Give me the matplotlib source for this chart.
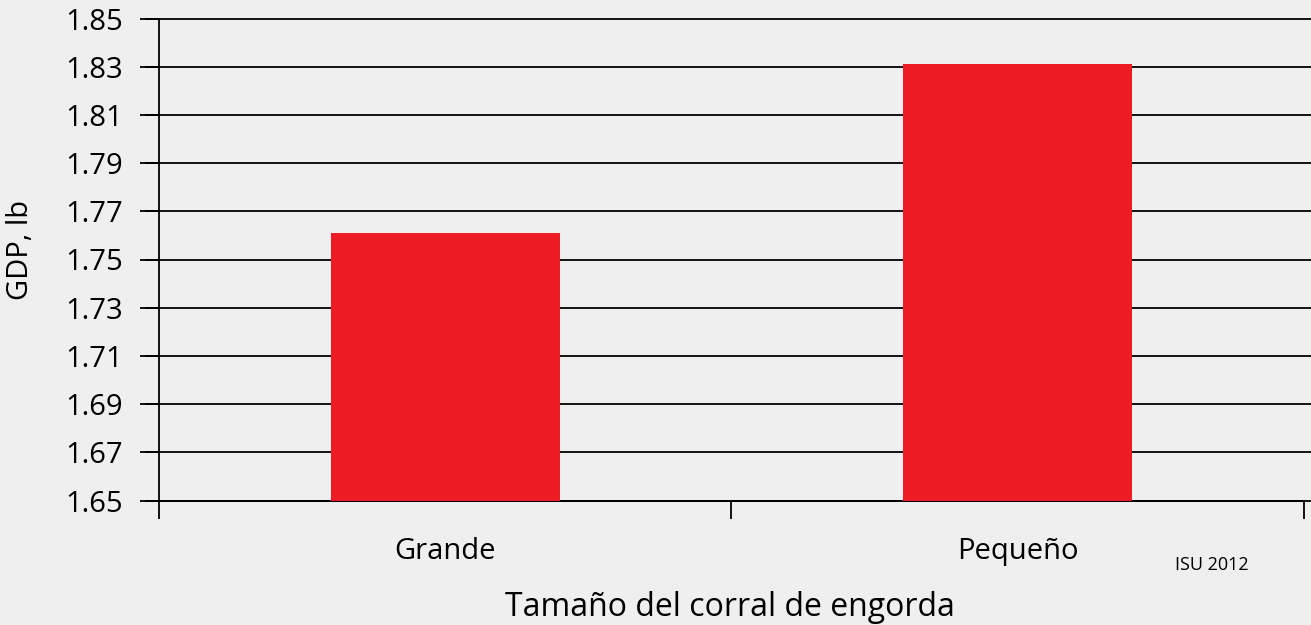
import matplotlib
matplotlib.use("Agg")
import matplotlib.pyplot as plt
import numpy as np

categories = ["Grande", "Pequeño"]
values = [1.761, 1.831]
yticks = [1.65, 1.67, 1.69, 1.71, 1.73, 1.75, 1.77, 1.79, 1.81, 1.83, 1.85]

plt.rcParams['font.family'] = ['Open Sans', 'DejaVu Sans']

W, H = 1311, 625
fig = plt.figure(figsize=(W / 100, H / 100), dpi=100)
fig.patch.set_facecolor('#efefef')
ax = fig.add_axes([159 / W, 1 - 500.5 / H, (1304 - 159) / W, (500.5 - 18.5) / H])
ax.set_facecolor('none')

x = np.arange(len(categories))
ax.bar(x, values, width=0.4, color='#ed1c24', zorder=3)
ax.set_xlim(-0.5, len(categories) - 0.5)
ax.set_ylim(yticks[0], yticks[-1])

ax.set_yticks(yticks)
ax.set_yticklabels([f"{v:.2f}" for v in yticks], fontsize=21)
ax.tick_params(axis='y', length=14, width=1.3, pad=12)
axw = (1304 - 159)
ax.hlines(yticks, -14 / axw, (1311 - 159) / axw, colors='black', linewidth=1.3,
          transform=ax.get_yaxis_transform(), clip_on=False, zorder=2)

ax.set_xticks([-0.5, 0.5, 1.5])
ax.set_xticklabels([])
ax.set_xticks(x, minor=True)
ax.set_xticklabels(categories, minor=True, fontsize=21)
ax.tick_params(axis='x', which='major', length=13, width=1.3)
ax.tick_params(axis='x', which='minor', length=0, pad=26)

for s in ['top', 'right']:
    ax.spines[s].set_visible(False)
for s in ['left', 'bottom']:
    ax.spines[s].set_linewidth(1.3)

fig.text(21 / W, 1 - 250 / H, "GDP, lb", fontsize=21, rotation=90,
         ha='center', va='center')
fig.text(730 / W, 1 - 607 / H, "Tamaño del corral de engorda", fontsize=23,
         ha='center', va='center')
fig.text(1212 / W, 1 - 565 / H, "ISU 2012", fontsize=13, ha='center', va='center')

fig.savefig("out.png", dpi=100, facecolor=fig.get_facecolor())
